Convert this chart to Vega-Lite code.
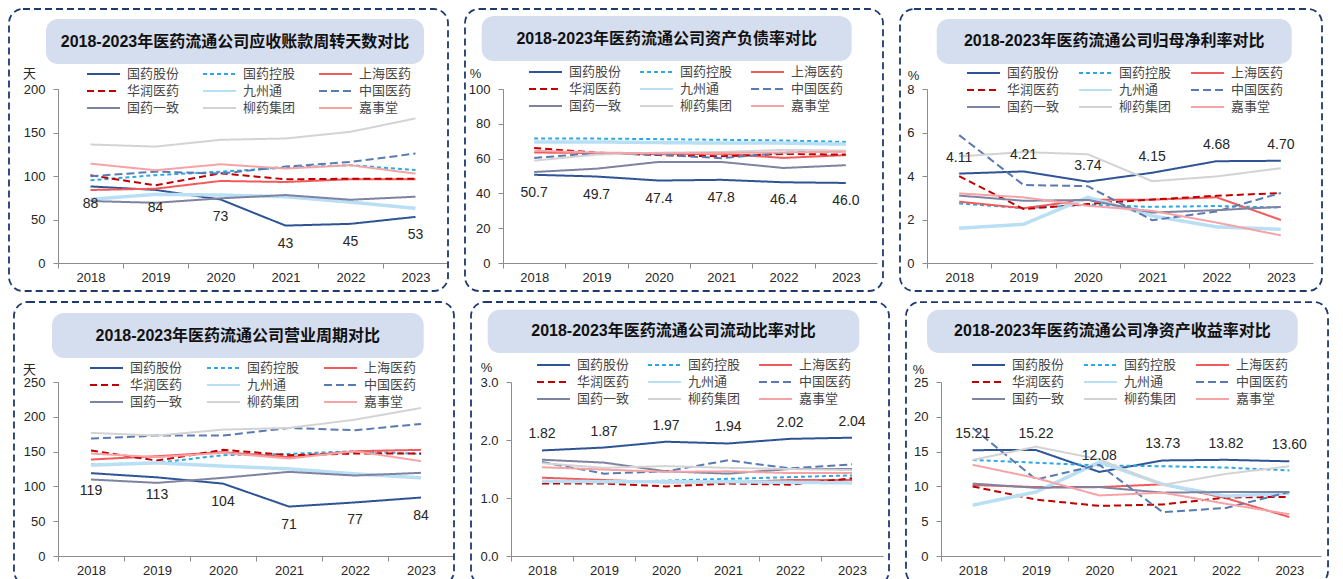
{
"$schema":"https://vega.github.io/schema/vega-lite/v6.json",
"padding":{"left":8,"top":8,"right":0,"bottom":0},
"background":"white",
"config":{"view":{"stroke":null},
"axis":{"domainColor":"#8C8C8C","tickColor":"#8C8C8C","labelColor":"#262626","labelFont":"Liberation Sans","labelFontSize":13,"titleFont":"Liberation Sans, Noto Sans CJK SC","titleFontSize":13,"titleFontWeight":"normal","titleColor":"#262626","grid":false,"labelOverlap":false},
"legend":{"orient":"none","direction":"horizontal","columns":3,"title":null,"labelFont":"Noto Sans CJK SC","labelFontSize":13,"labelColor":"#474747","symbolType":"stroke","symbolSize":1089,"symbolStrokeWidth":2,"labelOffset":6,"rowPadding":1,"clipHeight":16}},
"datasets":{"d":[
{"m":"ar","c":"国药股份","y":2018,"v":88},{"m":"ar","c":"国药股份","y":2019,"v":84},{"m":"ar","c":"国药股份","y":2020,"v":73},{"m":"ar","c":"国药股份","y":2021,"v":43},{"m":"ar","c":"国药股份","y":2022,"v":45},{"m":"ar","c":"国药股份","y":2023,"v":53},
{"m":"ar","c":"国药控股","y":2018,"v":95},{"m":"ar","c":"国药控股","y":2019,"v":101},{"m":"ar","c":"国药控股","y":2020,"v":105},{"m":"ar","c":"国药控股","y":2021,"v":109.6},{"m":"ar","c":"国药控股","y":2022,"v":112.4},{"m":"ar","c":"国药控股","y":2023,"v":107},
{"m":"ar","c":"上海医药","y":2018,"v":83.9},{"m":"ar","c":"上海医药","y":2019,"v":85.4},{"m":"ar","c":"上海医药","y":2020,"v":94.3},{"m":"ar","c":"上海医药","y":2021,"v":93.1},{"m":"ar","c":"上海医药","y":2022,"v":96.2},{"m":"ar","c":"上海医药","y":2023,"v":96.2},
{"m":"ar","c":"华润医药","y":2018,"v":100.8},{"m":"ar","c":"华润医药","y":2019,"v":89.3},{"m":"ar","c":"华润医药","y":2020,"v":103.1},{"m":"ar","c":"华润医药","y":2021,"v":96.2},{"m":"ar","c":"华润医药","y":2022,"v":96.9},{"m":"ar","c":"华润医药","y":2023,"v":96.9},
{"m":"ar","c":"九州通","y":2018,"v":73.2},{"m":"ar","c":"九州通","y":2019,"v":78.9},{"m":"ar","c":"九州通","y":2020,"v":78.1},{"m":"ar","c":"九州通","y":2021,"v":76.2},{"m":"ar","c":"九州通","y":2022,"v":70},{"m":"ar","c":"九州通","y":2023,"v":62.8},
{"m":"ar","c":"中国医药","y":2018,"v":99.7},{"m":"ar","c":"中国医药","y":2019,"v":105},{"m":"ar","c":"中国医药","y":2020,"v":102.7},{"m":"ar","c":"中国医药","y":2021,"v":110.8},{"m":"ar","c":"中国医药","y":2022,"v":116.2},{"m":"ar","c":"中国医药","y":2023,"v":125.8},
{"m":"ar","c":"国药一致","y":2018,"v":71.2},{"m":"ar","c":"国药一致","y":2019,"v":69.2},{"m":"ar","c":"国药一致","y":2020,"v":74.3},{"m":"ar","c":"国药一致","y":2021,"v":78.1},{"m":"ar","c":"国药一致","y":2022,"v":72.7},{"m":"ar","c":"国药一致","y":2023,"v":76.2},
{"m":"ar","c":"柳药集团","y":2018,"v":136.2},{"m":"ar","c":"柳药集团","y":2019,"v":133.8},{"m":"ar","c":"柳药集团","y":2020,"v":141.6},{"m":"ar","c":"柳药集团","y":2021,"v":143.1},{"m":"ar","c":"柳药集团","y":2022,"v":150.8},{"m":"ar","c":"柳药集团","y":2023,"v":166.2},
{"m":"ar","c":"嘉事堂","y":2018,"v":114.2},{"m":"ar","c":"嘉事堂","y":2019,"v":106.6},{"m":"ar","c":"嘉事堂","y":2020,"v":113.5},{"m":"ar","c":"嘉事堂","y":2021,"v":108.5},{"m":"ar","c":"嘉事堂","y":2022,"v":112.4},{"m":"ar","c":"嘉事堂","y":2023,"v":102.7},
{"m":"dr","c":"国药股份","y":2018,"v":50.7},{"m":"dr","c":"国药股份","y":2019,"v":49.7},{"m":"dr","c":"国药股份","y":2020,"v":47.4},{"m":"dr","c":"国药股份","y":2021,"v":47.8},{"m":"dr","c":"国药股份","y":2022,"v":46.4},{"m":"dr","c":"国药股份","y":2023,"v":46.0},
{"m":"dr","c":"国药控股","y":2018,"v":71.5},{"m":"dr","c":"国药控股","y":2019,"v":71.5},{"m":"dr","c":"国药控股","y":2020,"v":71.2},{"m":"dr","c":"国药控股","y":2021,"v":70.8},{"m":"dr","c":"国药控股","y":2022,"v":70.4},{"m":"dr","c":"国药控股","y":2023,"v":69.6},
{"m":"dr","c":"上海医药","y":2018,"v":63.5},{"m":"dr","c":"上海医药","y":2019,"v":63.2},{"m":"dr","c":"上海医药","y":2020,"v":62.5},{"m":"dr","c":"上海医药","y":2021,"v":62.8},{"m":"dr","c":"上海医药","y":2022,"v":60.4},{"m":"dr","c":"上海医药","y":2023,"v":62.0},
{"m":"dr","c":"华润医药","y":2018,"v":66.1},{"m":"dr","c":"华润医药","y":2019,"v":63.4},{"m":"dr","c":"华润医药","y":2020,"v":62.0},{"m":"dr","c":"华润医药","y":2021,"v":61.3},{"m":"dr","c":"华润医药","y":2022,"v":62.7},{"m":"dr","c":"华润医药","y":2023,"v":62.3},
{"m":"dr","c":"九州通","y":2018,"v":69.6},{"m":"dr","c":"九州通","y":2019,"v":69.6},{"m":"dr","c":"九州通","y":2020,"v":69.2},{"m":"dr","c":"九州通","y":2021,"v":68.9},{"m":"dr","c":"九州通","y":2022,"v":68.9},{"m":"dr","c":"九州通","y":2023,"v":68.3},
{"m":"dr","c":"中国医药","y":2018,"v":60.4},{"m":"dr","c":"中国医药","y":2019,"v":63.1},{"m":"dr","c":"中国医药","y":2020,"v":62.3},{"m":"dr","c":"中国医药","y":2021,"v":60.2},{"m":"dr","c":"中国医药","y":2022,"v":63.4},{"m":"dr","c":"中国医药","y":2023,"v":64.2},
{"m":"dr","c":"国药一致","y":2018,"v":52.3},{"m":"dr","c":"国药一致","y":2019,"v":54.2},{"m":"dr","c":"国药一致","y":2020,"v":58.1},{"m":"dr","c":"国药一致","y":2021,"v":58.1},{"m":"dr","c":"国药一致","y":2022,"v":54.6},{"m":"dr","c":"国药一致","y":2023,"v":56.2},
{"m":"dr","c":"柳药集团","y":2018,"v":58.8},{"m":"dr","c":"柳药集团","y":2019,"v":62.3},{"m":"dr","c":"柳药集团","y":2020,"v":63.4},{"m":"dr","c":"柳药集团","y":2021,"v":63.8},{"m":"dr","c":"柳药集团","y":2022,"v":65.0},{"m":"dr","c":"柳药集团","y":2023,"v":64.6},
{"m":"dr","c":"嘉事堂","y":2018,"v":64.5},{"m":"dr","c":"嘉事堂","y":2019,"v":63.5},{"m":"dr","c":"嘉事堂","y":2020,"v":63.0},{"m":"dr","c":"嘉事堂","y":2021,"v":63.3},{"m":"dr","c":"嘉事堂","y":2022,"v":63.5},{"m":"dr","c":"嘉事堂","y":2023,"v":64.0},
{"m":"np","c":"国药股份","y":2018,"v":4.11},{"m":"np","c":"国药股份","y":2019,"v":4.21},{"m":"np","c":"国药股份","y":2020,"v":3.74},{"m":"np","c":"国药股份","y":2021,"v":4.15},{"m":"np","c":"国药股份","y":2022,"v":4.68},{"m":"np","c":"国药股份","y":2023,"v":4.70},
{"m":"np","c":"国药控股","y":2018,"v":2.74},{"m":"np","c":"国药控股","y":2019,"v":2.52},{"m":"np","c":"国药控股","y":2020,"v":2.68},{"m":"np","c":"国药控股","y":2021,"v":2.58},{"m":"np","c":"国药控股","y":2022,"v":2.62},{"m":"np","c":"国药控股","y":2023,"v":2.55},
{"m":"np","c":"上海医药","y":2018,"v":2.82},{"m":"np","c":"上海医药","y":2019,"v":2.52},{"m":"np","c":"上海医药","y":2020,"v":2.91},{"m":"np","c":"上海医药","y":2021,"v":2.91},{"m":"np","c":"上海医药","y":2022,"v":3.02},{"m":"np","c":"上海医药","y":2023,"v":1.98},
{"m":"np","c":"华润医药","y":2018,"v":3.99},{"m":"np","c":"华润医药","y":2019,"v":2.48},{"m":"np","c":"华润医药","y":2020,"v":2.71},{"m":"np","c":"华润医药","y":2021,"v":2.92},{"m":"np","c":"华润医药","y":2022,"v":3.09},{"m":"np","c":"华润医药","y":2023,"v":3.22},
{"m":"np","c":"九州通","y":2018,"v":1.60},{"m":"np","c":"九州通","y":2019,"v":1.78},{"m":"np","c":"九州通","y":2020,"v":3.02},{"m":"np","c":"九州通","y":2021,"v":2.17},{"m":"np","c":"九州通","y":2022,"v":1.66},{"m":"np","c":"九州通","y":2023,"v":1.55},
{"m":"np","c":"中国医药","y":2018,"v":5.88},{"m":"np","c":"中国医药","y":2019,"v":3.59},{"m":"np","c":"中国医药","y":2020,"v":3.53},{"m":"np","c":"中国医药","y":2021,"v":1.97},{"m":"np","c":"中国医药","y":2022,"v":2.37},{"m":"np","c":"中国医药","y":2023,"v":3.22},
{"m":"np","c":"国药一致","y":2018,"v":3.10},{"m":"np","c":"国药一致","y":2019,"v":2.86},{"m":"np","c":"国药一致","y":2020,"v":2.90},{"m":"np","c":"国药一致","y":2021,"v":2.32},{"m":"np","c":"国药一致","y":2022,"v":2.43},{"m":"np","c":"国药一致","y":2023,"v":2.58},
{"m":"np","c":"柳药集团","y":2018,"v":4.90},{"m":"np","c":"柳药集团","y":2019,"v":5.10},{"m":"np","c":"柳药集团","y":2020,"v":5.00},{"m":"np","c":"柳药集团","y":2021,"v":3.76},{"m":"np","c":"柳药集团","y":2022,"v":3.98},{"m":"np","c":"柳药集团","y":2023,"v":4.36},
{"m":"np","c":"嘉事堂","y":2018,"v":3.20},{"m":"np","c":"嘉事堂","y":2019,"v":3.02},{"m":"np","c":"嘉事堂","y":2020,"v":2.63},{"m":"np","c":"嘉事堂","y":2021,"v":2.40},{"m":"np","c":"嘉事堂","y":2022,"v":1.86},{"m":"np","c":"嘉事堂","y":2023,"v":1.27},
{"m":"oc","c":"国药股份","y":2018,"v":119},{"m":"oc","c":"国药股份","y":2019,"v":113},{"m":"oc","c":"国药股份","y":2020,"v":104},{"m":"oc","c":"国药股份","y":2021,"v":71},{"m":"oc","c":"国药股份","y":2022,"v":77},{"m":"oc","c":"国药股份","y":2023,"v":84},
{"m":"oc","c":"国药控股","y":2018,"v":131.4},{"m":"oc","c":"国药控股","y":2019,"v":133.8},{"m":"oc","c":"国药控股","y":2020,"v":144.9},{"m":"oc","c":"国药控股","y":2021,"v":146.7},{"m":"oc","c":"国药控股","y":2022,"v":150.6},{"m":"oc","c":"国药控股","y":2023,"v":146.7},
{"m":"oc","c":"上海医药","y":2018,"v":138.6},{"m":"oc","c":"上海医药","y":2019,"v":143.4},{"m":"oc","c":"上海医药","y":2020,"v":149.2},{"m":"oc","c":"上海医药","y":2021,"v":142},{"m":"oc","c":"上海医药","y":2022,"v":150.6},{"m":"oc","c":"上海医药","y":2023,"v":152.5},
{"m":"oc","c":"华润医药","y":2018,"v":151.5},{"m":"oc","c":"华润医药","y":2019,"v":137.1},{"m":"oc","c":"华润医药","y":2020,"v":152.5},{"m":"oc","c":"华润医药","y":2021,"v":144.9},{"m":"oc","c":"华润医药","y":2022,"v":147.2},{"m":"oc","c":"华润医药","y":2023,"v":147.2},
{"m":"oc","c":"九州通","y":2018,"v":130.5},{"m":"oc","c":"九州通","y":2019,"v":133.8},{"m":"oc","c":"九州通","y":2020,"v":129.1},{"m":"oc","c":"九州通","y":2021,"v":125.2},{"m":"oc","c":"九州通","y":2022,"v":118},{"m":"oc","c":"九州通","y":2023,"v":112.3},
{"m":"oc","c":"中国医药","y":2018,"v":168.7},{"m":"oc","c":"中国医药","y":2019,"v":173},{"m":"oc","c":"中国医药","y":2020,"v":173},{"m":"oc","c":"中国医药","y":2021,"v":184},{"m":"oc","c":"中国医药","y":2022,"v":180.7},{"m":"oc","c":"中国医药","y":2023,"v":189.8},
{"m":"oc","c":"国药一致","y":2018,"v":109.9},{"m":"oc","c":"国药一致","y":2019,"v":105.1},{"m":"oc","c":"国药一致","y":2020,"v":112.3},{"m":"oc","c":"国药一致","y":2021,"v":120.9},{"m":"oc","c":"国药一致","y":2022,"v":115.6},{"m":"oc","c":"国药一致","y":2023,"v":119.5},
{"m":"oc","c":"柳药集团","y":2018,"v":176.9},{"m":"oc","c":"柳药集团","y":2019,"v":173},{"m":"oc","c":"柳药集团","y":2020,"v":181.6},{"m":"oc","c":"柳药集团","y":2021,"v":184},{"m":"oc","c":"柳药集团","y":2022,"v":195.9},{"m":"oc","c":"柳药集团","y":2023,"v":212.7},
{"m":"oc","c":"嘉事堂","y":2018,"v":147.2},{"m":"oc","c":"嘉事堂","y":2019,"v":142},{"m":"oc","c":"嘉事堂","y":2020,"v":148.2},{"m":"oc","c":"嘉事堂","y":2021,"v":140},{"m":"oc","c":"嘉事堂","y":2022,"v":150.6},{"m":"oc","c":"嘉事堂","y":2023,"v":136.3},
{"m":"cr","c":"国药股份","y":2018,"v":1.82},{"m":"cr","c":"国药股份","y":2019,"v":1.87},{"m":"cr","c":"国药股份","y":2020,"v":1.97},{"m":"cr","c":"国药股份","y":2021,"v":1.94},{"m":"cr","c":"国药股份","y":2022,"v":2.02},{"m":"cr","c":"国药股份","y":2023,"v":2.04},
{"m":"cr","c":"国药控股","y":2018,"v":1.28},{"m":"cr","c":"国药控股","y":2019,"v":1.27},{"m":"cr","c":"国药控股","y":2020,"v":1.30},{"m":"cr","c":"国药控股","y":2021,"v":1.33},{"m":"cr","c":"国药控股","y":2022,"v":1.36},{"m":"cr","c":"国药控股","y":2023,"v":1.39},
{"m":"cr","c":"上海医药","y":2018,"v":1.35},{"m":"cr","c":"上海医药","y":2019,"v":1.31},{"m":"cr","c":"上海医药","y":2020,"v":1.27},{"m":"cr","c":"上海医药","y":2021,"v":1.27},{"m":"cr","c":"上海医药","y":2022,"v":1.31},{"m":"cr","c":"上海医药","y":2023,"v":1.31},
{"m":"cr","c":"华润医药","y":2018,"v":1.25},{"m":"cr","c":"华润医药","y":2019,"v":1.25},{"m":"cr","c":"华润医药","y":2020,"v":1.20},{"m":"cr","c":"华润医药","y":2021,"v":1.25},{"m":"cr","c":"华润医药","y":2022,"v":1.23},{"m":"cr","c":"华润医药","y":2023,"v":1.34},
{"m":"cr","c":"九州通","y":2018,"v":1.29},{"m":"cr","c":"九州通","y":2019,"v":1.28},{"m":"cr","c":"九州通","y":2020,"v":1.28},{"m":"cr","c":"九州通","y":2021,"v":1.28},{"m":"cr","c":"九州通","y":2022,"v":1.27},{"m":"cr","c":"九州通","y":2023,"v":1.26},
{"m":"cr","c":"中国医药","y":2018,"v":1.62},{"m":"cr","c":"中国医药","y":2019,"v":1.42},{"m":"cr","c":"中国医药","y":2020,"v":1.46},{"m":"cr","c":"中国医药","y":2021,"v":1.65},{"m":"cr","c":"中国医药","y":2022,"v":1.51},{"m":"cr","c":"中国医药","y":2023,"v":1.58},
{"m":"cr","c":"国药一致","y":2018,"v":1.66},{"m":"cr","c":"国药一致","y":2019,"v":1.61},{"m":"cr","c":"国药一致","y":2020,"v":1.46},{"m":"cr","c":"国药一致","y":2021,"v":1.42},{"m":"cr","c":"国药一致","y":2022,"v":1.50},{"m":"cr","c":"国药一致","y":2023,"v":1.50},
{"m":"cr","c":"柳药集团","y":2018,"v":1.60},{"m":"cr","c":"柳药集团","y":2019,"v":1.52},{"m":"cr","c":"柳药集团","y":2020,"v":1.55},{"m":"cr","c":"柳药集团","y":2021,"v":1.52},{"m":"cr","c":"柳药集团","y":2022,"v":1.50},{"m":"cr","c":"柳药集团","y":2023,"v":1.48},
{"m":"cr","c":"嘉事堂","y":2018,"v":1.53},{"m":"cr","c":"嘉事堂","y":2019,"v":1.49},{"m":"cr","c":"嘉事堂","y":2020,"v":1.45},{"m":"cr","c":"嘉事堂","y":2021,"v":1.46},{"m":"cr","c":"嘉事堂","y":2022,"v":1.43},{"m":"cr","c":"嘉事堂","y":2023,"v":1.43},
{"m":"roe","c":"国药股份","y":2018,"v":15.21},{"m":"roe","c":"国药股份","y":2019,"v":15.22},{"m":"roe","c":"国药股份","y":2020,"v":12.08},{"m":"roe","c":"国药股份","y":2021,"v":13.73},{"m":"roe","c":"国药股份","y":2022,"v":13.82},{"m":"roe","c":"国药股份","y":2023,"v":13.60},
{"m":"roe","c":"国药控股","y":2018,"v":13.8},{"m":"roe","c":"国药控股","y":2019,"v":13.4},{"m":"roe","c":"国药控股","y":2020,"v":13.0},{"m":"roe","c":"国药控股","y":2021,"v":12.9},{"m":"roe","c":"国药控股","y":2022,"v":12.7},{"m":"roe","c":"国药控股","y":2023,"v":12.3},
{"m":"roe","c":"上海医药","y":2018,"v":10.2},{"m":"roe","c":"上海医药","y":2019,"v":9.9},{"m":"roe","c":"上海医药","y":2020,"v":9.9},{"m":"roe","c":"上海医药","y":2021,"v":10.3},{"m":"roe","c":"上海医药","y":2022,"v":8.3},{"m":"roe","c":"上海医药","y":2023,"v":5.6},
{"m":"roe","c":"华润医药","y":2018,"v":10.0},{"m":"roe","c":"华润医药","y":2019,"v":8.1},{"m":"roe","c":"华润医药","y":2020,"v":7.2},{"m":"roe","c":"华润医药","y":2021,"v":7.4},{"m":"roe","c":"华润医药","y":2022,"v":8.4},{"m":"roe","c":"华润医药","y":2023,"v":8.5},
{"m":"roe","c":"九州通","y":2018,"v":7.3},{"m":"roe","c":"九州通","y":2019,"v":9.2},{"m":"roe","c":"九州通","y":2020,"v":13.5},{"m":"roe","c":"九州通","y":2021,"v":10.3},{"m":"roe","c":"九州通","y":2022,"v":8.6},{"m":"roe","c":"九州通","y":2023,"v":9.0},
{"m":"roe","c":"中国医药","y":2018,"v":18.4},{"m":"roe","c":"中国医药","y":2019,"v":11.0},{"m":"roe","c":"中国医药","y":2020,"v":13.1},{"m":"roe","c":"中国医药","y":2021,"v":6.3},{"m":"roe","c":"中国医药","y":2022,"v":6.9},{"m":"roe","c":"中国医药","y":2023,"v":9.2},
{"m":"roe","c":"国药一致","y":2018,"v":10.4},{"m":"roe","c":"国药一致","y":2019,"v":9.8},{"m":"roe","c":"国药一致","y":2020,"v":9.9},{"m":"roe","c":"国药一致","y":2021,"v":9.1},{"m":"roe","c":"国药一致","y":2022,"v":9.2},{"m":"roe","c":"国药一致","y":2023,"v":9.2},
{"m":"roe","c":"柳药集团","y":2018,"v":13.8},{"m":"roe","c":"柳药集团","y":2019,"v":15.7},{"m":"roe","c":"柳药集团","y":2020,"v":13.9},{"m":"roe","c":"柳药集团","y":2021,"v":10.2},{"m":"roe","c":"柳药集团","y":2022,"v":11.8},{"m":"roe","c":"柳药集团","y":2023,"v":12.9},
{"m":"roe","c":"嘉事堂","y":2018,"v":13.1},{"m":"roe","c":"嘉事堂","y":2019,"v":11.2},{"m":"roe","c":"嘉事堂","y":2020,"v":8.7},{"m":"roe","c":"嘉事堂","y":2021,"v":9.1},{"m":"roe","c":"嘉事堂","y":2022,"v":7.5},{"m":"roe","c":"嘉事堂","y":2023,"v":6.0}
]},
"resolve":{"scale":{"x":"independent","y":"independent"},"legend":{"color":"independent","strokeDash":"independent"}},
"spacing":9,
"vconcat":[
{"spacing":15,"resolve":{"scale":{"x":"independent","y":"independent"},"legend":{"color":"independent","strokeDash":"independent"}},
"hconcat":[
{"width":390,"height":174,"layer":[
{"data":{"values":[{}]},"mark":{"type":"rect","filled":false,"stroke":"#1F3B6E","strokeWidth":1.8,"strokeDash":[7,4],"cornerRadius":14},"encoding":{"x":{"datum":2016.746},"x2":{"datum":2023.5},"y":{"datum":291.95},"y2":{"datum":-32.18}}},
{"data":{"values":[{}]},"mark":{"type":"rect","fill":"#D5DEEF","cornerRadius":12},"encoding":{"x":{"datum":2017.315},"x2":{"datum":2023.131},"y":{"datum":280.46},"y2":{"datum":228.74}}},
{"data":{"values":[{}]},"mark":{"type":"text","text":"2018-2023年医药流通公司应收账款周转天数对比","fontSize":16,"fontWeight":"bold","font":"Liberation Sans, Noto Sans CJK SC","color":"#111111"},"encoding":{"x":{"datum":2020.223},"y":{"datum":254}}},
{"data":{"name":"d"},"transform":[{"filter":"datum.m == 'ar'"}],"mark":{"type":"line"},
"encoding":{"x":{"field":"y","type":"quantitative","scale":{"domain":[2017.5,2023.5],"nice":false,"zero":false},"axis":{"title":null,"values":[2017.5,2018.5,2019.5,2020.5,2021.5,2022.5],"tickCount":20,"labelExpr":"'' + (datum.value + 0.5)","labelOffset":32.5,"labelFlush":false,"labelBound":false,"tickSize":5,"labelPadding":3}},
"y":{"field":"v","type":"quantitative","scale":{"domain":[0,200],"nice":false},"axis":{"values":[0,50,100,150,200],"tickCount":20,"labelOverlap":false,"title":"天","titleAngle":0,"titleAlign":"center","titleBaseline":"middle","titleX":-29,"titleY":-16,"tickSize":5,"labelPadding":8}},
"color":{"field":"c","type":"nominal","scale":{"domain":["国药股份","国药控股","上海医药","华润医药","九州通","中国医药","国药一致","柳药集团","嘉事堂"],"range":["#2F5496","#2BA9E0","#F25B5B","#C00000","#B9DFF4","#5A7AB2","#7D83A1","#D3D3D3","#F7A3A6"]},"legend":{"legendX":28,"legendY":-23,"columnPadding":22}},
"strokeDash":{"field":"c","type":"nominal","scale":{"domain":["国药股份","国药控股","上海医药","华润医药","九州通","中国医药","国药一致","柳药集团","嘉事堂"],"range":[[1,0],[4,3],[1,0],[7,4],[1,0],[8,4],[1,0],[1,0],[1,0]]},"legend":{"legendX":28,"legendY":-23,"columnPadding":22}},
"strokeWidth":{"condition":{"test":"datum.c === '九州通'","value":3.5},"value":2}}},
{"data":{"name":"d"},"transform":[{"filter":"datum.m == 'ar' && datum.c == '国药股份'"}],"mark":{"type":"text","dy":18,"fontSize":14,"font":"Liberation Sans","color":"#262626"},"encoding":{"x":{"field":"y","type":"quantitative"},"y":{"field":"v","type":"quantitative"},"text":{"field":"v","type":"quantitative","format":".0f"}}}
]},
{"width":374,"height":174,"layer":[
{"data":{"values":[{}]},"mark":{"type":"rect","filled":false,"stroke":"#1F3B6E","strokeWidth":1.8,"strokeDash":[7,4],"cornerRadius":14},"encoding":{"x":{"datum":2016.89},"x2":{"datum":2023.596},"y":{"datum":145.98},"y2":{"datum":-16.09}}},
{"data":{"values":[{}]},"mark":{"type":"rect","fill":"#D5DEEF","cornerRadius":12},"encoding":{"x":{"datum":2017.158},"x2":{"datum":2023.094},"y":{"datum":141.95},"y2":{"datum":116.09}}},
{"data":{"values":[{}]},"mark":{"type":"text","text":"2018-2023年医药流通公司资产负债率对比","fontSize":16,"fontWeight":"bold","font":"Liberation Sans, Noto Sans CJK SC","color":"#111111"},"encoding":{"x":{"datum":2020.126},"y":{"datum":129.0}}},
{"data":{"name":"d"},"transform":[{"filter":"datum.m == 'dr'"}],"mark":{"type":"line"},
"encoding":{"x":{"field":"y","type":"quantitative","scale":{"domain":[2017.5,2023.5],"nice":false,"zero":false},"axis":{"title":null,"values":[2017.5,2018.5,2019.5,2020.5,2021.5,2022.5],"tickCount":20,"labelExpr":"'' + (datum.value + 0.5)","labelOffset":31.17,"labelFlush":false,"labelBound":false,"tickSize":5,"labelPadding":3}},
"y":{"field":"v","type":"quantitative","scale":{"domain":[0,100],"nice":false},"axis":{"values":[0,20,40,60,80,100],"tickCount":20,"labelOverlap":false,"title":"%","titleAngle":0,"titleAlign":"center","titleBaseline":"middle","titleX":-28,"titleY":-16,"tickSize":5,"labelPadding":8}},
"color":{"field":"c","type":"nominal","scale":{"domain":["国药股份","国药控股","上海医药","华润医药","九州通","中国医药","国药一致","柳药集团","嘉事堂"],"range":["#2F5496","#2BA9E0","#F25B5B","#C00000","#B9DFF4","#5A7AB2","#7D83A1","#D3D3D3","#F7A3A6"]},"legend":{"legendX":25,"legendY":-25,"columnPadding":17}},
"strokeDash":{"field":"c","type":"nominal","scale":{"domain":["国药股份","国药控股","上海医药","华润医药","九州通","中国医药","国药一致","柳药集团","嘉事堂"],"range":[[1,0],[4,3],[1,0],[7,4],[1,0],[8,4],[1,0],[1,0],[1,0]]},"legend":{"legendX":25,"legendY":-25,"columnPadding":17}},
"strokeWidth":{"condition":{"test":"datum.c === '九州通'","value":3.5},"value":2}}},
{"data":{"name":"d"},"transform":[{"filter":"datum.m == 'dr' && datum.c == '国药股份'"}],"mark":{"type":"text","dy":18,"fontSize":14,"font":"Liberation Sans","color":"#262626"},"encoding":{"x":{"field":"y","type":"quantitative"},"y":{"field":"v","type":"quantitative"},"text":{"field":"v","type":"quantitative","format":".1f"}}}
]},
{"width":386,"height":174,"layer":[
{"data":{"values":[{}]},"mark":{"type":"rect","filled":false,"stroke":"#1F3B6E","strokeWidth":1.8,"strokeDash":[7,4],"cornerRadius":14},"encoding":{"x":{"datum":2017.08},"x2":{"datum":2023.64},"y":{"datum":11.678},"y2":{"datum":-1.287}}},
{"data":{"values":[{}]},"mark":{"type":"rect","fill":"#D5DEEF","cornerRadius":12},"encoding":{"x":{"datum":2017.651},"x2":{"datum":2023.169},"y":{"datum":11.218},"y2":{"datum":9.149}}},
{"data":{"values":[{}]},"mark":{"type":"text","text":"2018-2023年医药流通公司归母净利率对比","fontSize":16,"fontWeight":"bold","font":"Liberation Sans, Noto Sans CJK SC","color":"#111111"},"encoding":{"x":{"datum":2020.41},"y":{"datum":10.184}}},
{"data":{"name":"d"},"transform":[{"filter":"datum.m == 'np'"}],"mark":{"type":"line"},
"encoding":{"x":{"field":"y","type":"quantitative","scale":{"domain":[2017.5,2023.5],"nice":false,"zero":false},"axis":{"title":null,"values":[2017.5,2018.5,2019.5,2020.5,2021.5,2022.5],"tickCount":20,"labelExpr":"'' + (datum.value + 0.5)","labelOffset":32.17,"labelFlush":false,"labelBound":false,"tickSize":5,"labelPadding":3}},
"y":{"field":"v","type":"quantitative","scale":{"domain":[0,8],"nice":false},"axis":{"values":[0,2,4,6,8],"format":"d","tickCount":20,"labelOverlap":false,"title":"%","titleAngle":0,"titleAlign":"center","titleBaseline":"middle","titleX":-14,"titleY":-14,"tickSize":5,"labelPadding":8}},
"color":{"field":"c","type":"nominal","scale":{"domain":["国药股份","国药控股","上海医药","华润医药","九州通","中国医药","国药一致","柳药集团","嘉事堂"],"range":["#2F5496","#2BA9E0","#F25B5B","#C00000","#B9DFF4","#5A7AB2","#7D83A1","#D3D3D3","#F7A3A6"]},"legend":{"legendX":39,"legendY":-24,"columnPadding":18}},
"strokeDash":{"field":"c","type":"nominal","scale":{"domain":["国药股份","国药控股","上海医药","华润医药","九州通","中国医药","国药一致","柳药集团","嘉事堂"],"range":[[1,0],[4,3],[1,0],[7,4],[1,0],[8,4],[1,0],[1,0],[1,0]]},"legend":{"legendX":39,"legendY":-24,"columnPadding":18}},
"strokeWidth":{"condition":{"test":"datum.c === '九州通'","value":3.5},"value":2}}},
{"data":{"name":"d"},"transform":[{"filter":"datum.m == 'np' && datum.c == '国药股份'"}],"mark":{"type":"text","dy":-16,"fontSize":14,"font":"Liberation Sans","color":"#262626"},"encoding":{"x":{"field":"y","type":"quantitative"},"y":{"field":"v","type":"quantitative"},"text":{"field":"v","type":"quantitative","format":".2f"}}}
]}
]},
{"spacing":15,"resolve":{"scale":{"x":"independent","y":"independent"},"legend":{"color":"independent","strokeDash":"independent"}},
"hconcat":[
{"width":396,"height":174,"layer":[
{"data":{"values":[{}]},"mark":{"type":"rect","filled":false,"stroke":"#1F3B6E","strokeWidth":1.8,"strokeDash":[7,4],"cornerRadius":14},"encoding":{"x":{"datum":2016.833},"x2":{"datum":2023.5},"y":{"datum":364.94},"y2":{"datum":-41.67}}},
{"data":{"values":[{}]},"mark":{"type":"rect","fill":"#D5DEEF","cornerRadius":12},"encoding":{"x":{"datum":2017.409},"x2":{"datum":2023.041},"y":{"datum":349.14},"y2":{"datum":284.48}}},
{"data":{"values":[{}]},"mark":{"type":"text","text":"2018-2023年医药流通公司营业周期对比","fontSize":16,"fontWeight":"bold","font":"Liberation Sans, Noto Sans CJK SC","color":"#111111"},"encoding":{"x":{"datum":2020.225},"y":{"datum":316.81}}},
{"data":{"name":"d"},"transform":[{"filter":"datum.m == 'oc'"}],"mark":{"type":"line"},
"encoding":{"x":{"field":"y","type":"quantitative","scale":{"domain":[2017.5,2023.5],"nice":false,"zero":false},"axis":{"title":null,"values":[2017.5,2018.5,2019.5,2020.5,2021.5,2022.5],"tickCount":20,"labelExpr":"'' + (datum.value + 0.5)","labelOffset":33,"labelFlush":false,"labelBound":false,"tickSize":5,"labelPadding":3}},
"y":{"field":"v","type":"quantitative","scale":{"domain":[0,250],"nice":false},"axis":{"values":[0,50,100,150,200,250],"tickCount":20,"labelOverlap":false,"title":"天","titleAngle":0,"titleAlign":"center","titleBaseline":"middle","titleX":-29,"titleY":-13,"tickSize":5,"labelPadding":8}},
"color":{"field":"c","type":"nominal","scale":{"domain":["国药股份","国药控股","上海医药","华润医药","九州通","中国医药","国药一致","柳药集团","嘉事堂"],"range":["#2F5496","#2BA9E0","#F25B5B","#C00000","#B9DFF4","#5A7AB2","#7D83A1","#D3D3D3","#F7A3A6"]},"legend":{"legendX":31,"legendY":-22,"columnPadding":23}},
"strokeDash":{"field":"c","type":"nominal","scale":{"domain":["国药股份","国药控股","上海医药","华润医药","九州通","中国医药","国药一致","柳药集团","嘉事堂"],"range":[[1,0],[4,3],[1,0],[7,4],[1,0],[8,4],[1,0],[1,0],[1,0]]},"legend":{"legendX":31,"legendY":-22,"columnPadding":23}},
"strokeWidth":{"condition":{"test":"datum.c === '九州通'","value":3.5},"value":2}}},
{"data":{"name":"d"},"transform":[{"filter":"datum.m == 'oc' && datum.c == '国药股份'"}],"mark":{"type":"text","dy":18,"fontSize":14,"font":"Liberation Sans","color":"#262626"},"encoding":{"x":{"field":"y","type":"quantitative"},"y":{"field":"v","type":"quantitative"},"text":{"field":"v","type":"quantitative","format":".0f"}}}
]},
{"width":372,"height":174,"layer":[
{"data":{"values":[{}]},"mark":{"type":"rect","filled":false,"stroke":"#1F3B6E","strokeWidth":1.8,"strokeDash":[7,4],"cornerRadius":14},"encoding":{"x":{"datum":2016.855},"x2":{"datum":2023.597},"y":{"datum":4.379},"y2":{"datum":-0.5}}},
{"data":{"values":[{}]},"mark":{"type":"rect","fill":"#D5DEEF","cornerRadius":12},"encoding":{"x":{"datum":2017.124},"x2":{"datum":2023.118},"y":{"datum":4.247},"y2":{"datum":3.5}}},
{"data":{"values":[{}]},"mark":{"type":"text","text":"2018-2023年医药流通公司流动比率对比","fontSize":16,"fontWeight":"bold","font":"Liberation Sans, Noto Sans CJK SC","color":"#111111"},"encoding":{"x":{"datum":2020.121},"y":{"datum":3.874}}},
{"data":{"name":"d"},"transform":[{"filter":"datum.m == 'cr'"}],"mark":{"type":"line"},
"encoding":{"x":{"field":"y","type":"quantitative","scale":{"domain":[2017.5,2023.5],"nice":false,"zero":false},"axis":{"title":null,"values":[2017.5,2018.5,2019.5,2020.5,2021.5,2022.5],"tickCount":20,"labelExpr":"'' + (datum.value + 0.5)","labelOffset":31,"labelFlush":false,"labelBound":false,"tickSize":5,"labelPadding":3}},
"y":{"field":"v","type":"quantitative","scale":{"domain":[0,3],"nice":false},"axis":{"values":[0,1,2,3],"tickCount":20,"labelOverlap":false,"format":".1f","title":"%","titleAngle":0,"titleAlign":"center","titleBaseline":"middle","titleX":-25,"titleY":-15,"tickSize":5,"labelPadding":8}},
"color":{"field":"c","type":"nominal","scale":{"domain":["国药股份","国药控股","上海医药","华润医药","九州通","中国医药","国药一致","柳药集团","嘉事堂"],"range":["#2F5496","#2BA9E0","#F25B5B","#C00000","#B9DFF4","#5A7AB2","#7D83A1","#D3D3D3","#F7A3A6"]},"legend":{"legendX":25,"legendY":-25,"columnPadding":17}},
"strokeDash":{"field":"c","type":"nominal","scale":{"domain":["国药股份","国药控股","上海医药","华润医药","九州通","中国医药","国药一致","柳药集团","嘉事堂"],"range":[[1,0],[4,3],[1,0],[7,4],[1,0],[8,4],[1,0],[1,0],[1,0]]},"legend":{"legendX":25,"legendY":-25,"columnPadding":17}},
"strokeWidth":{"condition":{"test":"datum.c === '九州通'","value":3.5},"value":2}}},
{"data":{"name":"d"},"transform":[{"filter":"datum.m == 'cr' && datum.c == '国药股份'"}],"mark":{"type":"text","dy":-16,"fontSize":14,"font":"Liberation Sans","color":"#262626"},"encoding":{"x":{"field":"y","type":"quantitative"},"y":{"field":"v","type":"quantitative"},"text":{"field":"v","type":"quantitative","format":".2f"}}}
]},
{"width":380,"height":174,"layer":[
{"data":{"values":[{}]},"mark":{"type":"rect","filled":false,"stroke":"#1F3B6E","strokeWidth":1.8,"strokeDash":[7,4],"cornerRadius":14},"encoding":{"x":{"datum":2016.947},"x2":{"datum":2023.611},"y":{"datum":36.49},"y2":{"datum":-4.167}}},
{"data":{"values":[{}]},"mark":{"type":"rect","fill":"#D5DEEF","cornerRadius":12},"encoding":{"x":{"datum":2017.279},"x2":{"datum":2023.132},"y":{"datum":35.39},"y2":{"datum":29.17}}},
{"data":{"values":[{}]},"mark":{"type":"text","text":"2018-2023年医药流通公司净资产收益率对比","fontSize":16,"fontWeight":"bold","font":"Liberation Sans, Noto Sans CJK SC","color":"#111111"},"encoding":{"x":{"datum":2020.206},"y":{"datum":32.28}}},
{"data":{"name":"d"},"transform":[{"filter":"datum.m == 'roe'"}],"mark":{"type":"line"},
"encoding":{"x":{"field":"y","type":"quantitative","scale":{"domain":[2017.5,2023.5],"nice":false,"zero":false},"axis":{"title":null,"values":[2017.5,2018.5,2019.5,2020.5,2021.5,2022.5],"tickCount":20,"labelExpr":"'' + (datum.value + 0.5)","labelOffset":31.67,"labelFlush":false,"labelBound":false,"tickSize":5,"labelPadding":3}},
"y":{"field":"v","type":"quantitative","scale":{"domain":[0,25],"nice":false},"axis":{"values":[0,5,10,15,20,25],"tickCount":20,"labelOverlap":false,"title":"%","titleAngle":0,"titleAlign":"center","titleBaseline":"middle","titleX":-23,"titleY":-13,"tickSize":5,"labelPadding":8}},
"color":{"field":"c","type":"nominal","scale":{"domain":["国药股份","国药控股","上海医药","华润医药","九州通","中国医药","国药一致","柳药集团","嘉事堂"],"range":["#2F5496","#2BA9E0","#F25B5B","#C00000","#B9DFF4","#5A7AB2","#7D83A1","#D3D3D3","#F7A3A6"]},"legend":{"legendX":30,"legendY":-25,"columnPadding":18}},
"strokeDash":{"field":"c","type":"nominal","scale":{"domain":["国药股份","国药控股","上海医药","华润医药","九州通","中国医药","国药一致","柳药集团","嘉事堂"],"range":[[1,0],[4,3],[1,0],[7,4],[1,0],[8,4],[1,0],[1,0],[1,0]]},"legend":{"legendX":30,"legendY":-25,"columnPadding":18}},
"strokeWidth":{"condition":{"test":"datum.c === '九州通'","value":3.5},"value":2}}},
{"data":{"name":"d"},"transform":[{"filter":"datum.m == 'roe' && datum.c == '国药股份'"}],"mark":{"type":"text","dy":-16,"fontSize":14,"font":"Liberation Sans","color":"#262626"},"encoding":{"x":{"field":"y","type":"quantitative"},"y":{"field":"v","type":"quantitative"},"text":{"field":"v","type":"quantitative","format":".2f"}}}
]}
]}
]
}
